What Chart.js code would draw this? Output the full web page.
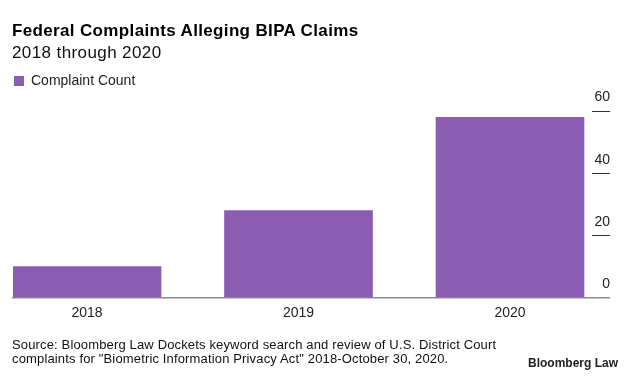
<!DOCTYPE html>
<html>
<head>
<meta charset="utf-8">
<script src="https://cdn.jsdelivr.net/npm/chart.js@4.4.1/dist/chart.umd.min.js"></script>
<style>
  body { margin: 0; background: #fff; font-family: "Liberation Sans", Arial, sans-serif; }
  #wrap { position: relative; width: 633px; height: 378px; overflow: hidden; }
  #box { position: absolute; left: 0; top: 0; width: 633px; height: 378px; }
  .txt { position: absolute; white-space: nowrap; color: #111; }
  #title { left: 12px; top: 20.6px; font-size: 17px; line-height: 20px; font-weight: bold; letter-spacing: 0.35px; color: #000; }
  #subtitle { left: 12px; top: 42.6px; font-size: 17px; line-height: 20px; letter-spacing: 0.4px; }
  #source { left: 12px; top: 337.5px; font-size: 13px; line-height: 14.6px; letter-spacing: 0.15px; color: #111; }
  #brand { left: 528px; top: 356px; font-size: 12px; line-height: 14px; font-weight: bold; color: #222; }
</style>
</head>
<body>
<div id="wrap">
  <div id="box"><canvas id="grafica"></canvas></div>
  <div class="txt" id="title">Federal Complaints Alleging BIPA Claims</div>
  <div class="txt" id="subtitle">2018 through 2020</div>
  <div class="txt" id="source">Source: Bloomberg Law Dockets keyword search and review of U.S. District Court<br>complaints for "Biometric Information Privacy Act" 2018-October 30, 2020.</div>
  <div class="txt" id="brand">Bloomberg Law</div>
</div>
<script>
const categorias = ['2018', '2019', '2020'];
const complaintCount = [10, 28, 58];
const yTicks = [0, 20, 40, 60];

const ctx = document.getElementById('grafica').getContext('2d');
const configuracion = {
    type: 'bar',
    data: {
        datasets: [{
            label: 'Complaint Count',
            data: categorias.map((c, i) => ({ x: i, y: complaintCount[i] })),
            backgroundColor: '#8a5db3',
            borderWidth: 0,
            barThickness: 148
        }]
    },
    options: {
        responsive: true,
        maintainAspectRatio: false,
        animation: false,
        layout: {
            padding: { top: 73, left: 13, right: 23, bottom: 49.5 }
        },
        scales: {
            x: {
                type: 'linear',
                offset: false,
                min: -0.35,
                max: 2.3877,
                afterBuildTicks: (scale) => {
                    scale.ticks = categorias.map((c, i) => ({ value: i }));
                },
                grid: { display: false, drawTicks: false, offset: false },
                border: { display: true, color: '#8c8c8c', width: 1.5 },
                ticks: {
                    autoSkip: false,
                    maxRotation: 0,
                    padding: 7,
                    color: '#222',
                    font: { family: 'Liberation Sans', size: 14 },
                    callback: (v) => categorias[v]
                }
            },
            y: {
                position: 'right',
                min: 0,
                max: 64.2,
                afterBuildTicks: (scale) => {
                    scale.ticks = yTicks.map(v => ({ value: v }));
                },
                afterFit: (scale) => {
                    scale.width = 18;
                },
                grid: {
                    drawOnChartArea: false,
                    drawTicks: true,
                    tickLength: 18,
                    color: (c) => c.tick && c.tick.value === 0 ? '#8c8c8c' : '#333',
                    lineWidth: (c) => c.tick && c.tick.value === 0 ? 1.5 : 1
                },
                border: { display: false },
                ticks: {
                    mirror: true,
                    padding: 18,
                    labelOffset: -13.5,
                    color: '#222',
                    font: { family: 'Liberation Sans', size: 14 }
                }
            }
        },
        plugins: {
            legend: {
                display: true,
                position: 'top',
                align: 'start',
                labels: {
                    boxWidth: 10,
                    boxHeight: 10,
                    padding: 1,
                    color: '#222',
                    font: { family: 'Liberation Sans', size: 14 }
                }
            },
            tooltip: { enabled: false }
        }
    }
};
var graficaBIPA = new Chart(ctx, configuracion);
</script>
</body>
</html>
